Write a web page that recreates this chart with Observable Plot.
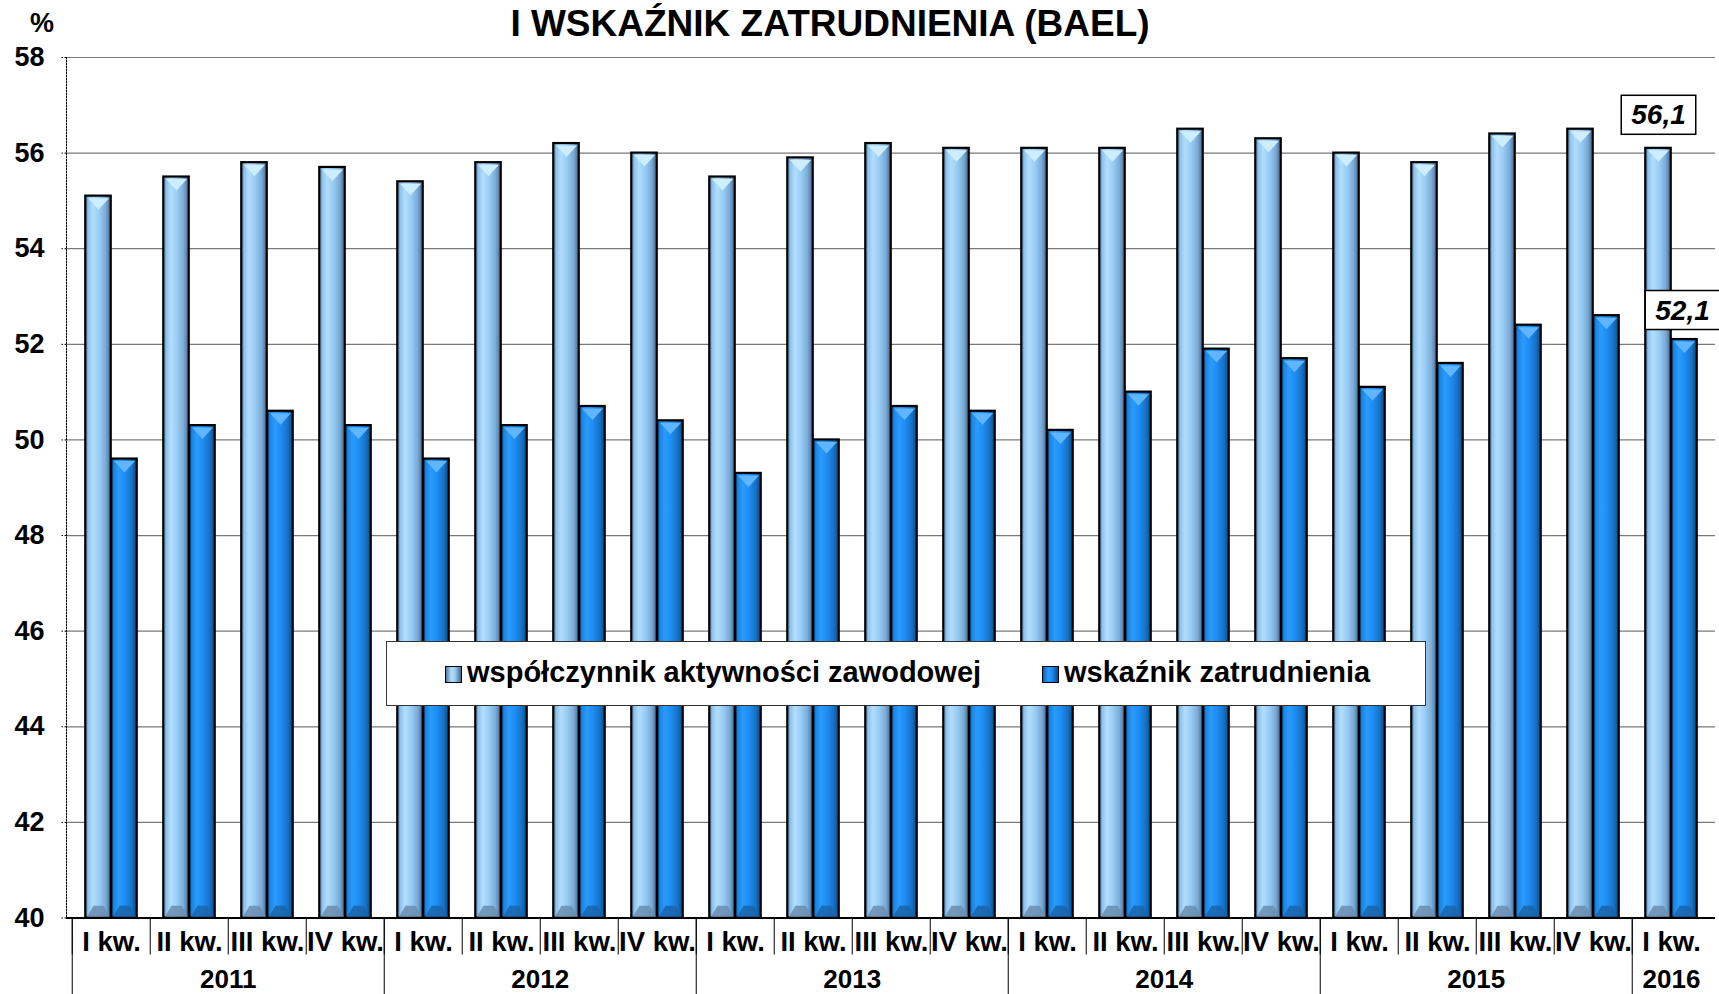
<!DOCTYPE html>
<html><head><meta charset="utf-8">
<script src="https://cdn.jsdelivr.net/npm/d3@7"></script>
<script src="https://cdn.jsdelivr.net/npm/@observablehq/plot@0.6"></script>
<style>
body{margin:0;background:#fff;font-family:"Liberation Sans",Arial,sans-serif;}
#wrap{position:relative;width:1719px;height:994px;overflow:hidden;background:#fff;}
#wrap svg{position:absolute;left:0;top:0;}
.title{position:absolute;left:0;width:1660px;top:3px;text-align:center;font-weight:bold;font-size:37px;line-height:42px;color:#000;}
.pct{position:absolute;left:30px;top:8px;font-weight:bold;font-size:27px;line-height:30px;}
.legend{position:absolute;left:386px;top:641px;width:1040px;height:65px;border:1.5px solid #333;background:#fff;box-sizing:border-box;}
.legend .sw{position:absolute;top:24px;width:17px;height:17px;border:1.5px solid #000;box-sizing:border-box;}
.legend .lt{position:absolute;top:13px;font-weight:bold;font-size:29px;line-height:34px;white-space:nowrap;}
</style></head><body><div id="wrap"></div>
<script>
// ---- data ----
const years = ["2011","2012","2013","2014","2015","2016"];
const quartersPerYear = [4,4,4,4,4,1];
const quarterNames = ["I kw.","II kw.","III kw.","IV kw."];
const seriesNames = ["współczynnik aktywności zawodowej","wskaźnik zatrudnienia"];
const activity = [55.1,55.5,55.8,55.7, 55.4,55.8,56.2,56.0, 55.5,55.9,56.2,56.1, 56.1,56.1,56.5,56.3, 56.0,55.8,56.4,56.5, 56.1];
const employment = [49.6,50.3,50.6,50.3, 49.6,50.3,50.7,50.4, 49.3,50.0,50.7,50.6, 50.2,51.0,51.9,51.7, 51.1,51.6,52.4,52.6, 52.1];
const yTicks = [40,42,44,46,48,50,52,54,56,58];
const titleText = "I WSKAŹNIK ZATRUDNIENIA (BAEL)";

// ---- build table ----
const rows = [];
years.forEach((yr, yi) => {
  for (let q = 0; q < quartersPerYear[yi]; q++) {
    rows.push({year: yr, quarter: quarterNames[q], key: yr + " " + quarterNames[q]});
  }
});
rows.forEach((r, i) => { r.activity = activity[i]; r.employment = employment[i]; });
const keys = rows.map(r => r.key);
const labelOf = new Map(rows.map(r => [r.key, r.quarter]));
const yearGroups = years.map(yr => rows.filter(r => r.year === yr));
const firstKeys = yearGroups.map(g => g[0].key);
const fullYears = yearGroups.filter(g => g.length === 4).map(g => ({year: g[0].year, key: g[2].key}));
const singleYears = yearGroups.filter(g => g.length === 1).map(g => ({year: g[0].year, key: g[0].key}));
const last = rows[rows.length - 1];
const fmt = v => v.toFixed(1).replace(".", ",");

// ---- layout ----
const W = 1719, H = 994;
const mL = 66, mR = 4, mT = 57, mB = H - 917.5;
const bw = (W - mL - mR) / keys.length;
const barW = 26;
const pad = (bw - 2 * barW) / 2;
const yMin = yTicks[0], yMax = yTicks[yTicks.length - 1];

const chevron = {draw(ctx) { ctx.moveTo(-10.5, -5.5); ctx.lineTo(10.5, -5.5); ctx.lineTo(0, 6); ctx.closePath(); }};
const bevel = {draw(ctx) { ctx.moveTo(-11.5, 6); ctx.lineTo(11.5, 6); ctx.lineTo(5, -5); ctx.lineTo(-5, -5); ctx.closePath(); }};
const font = {fontSize: 26, fontWeight: "bold", fontFamily: "Liberation Sans, Arial, sans-serif"};

const plot = Plot.plot({
  width: W, height: H,
  marginLeft: mL, marginRight: mR, marginTop: mT, marginBottom: mB,
  style: {fontFamily: "Liberation Sans, Arial, sans-serif", background: "transparent", overflow: "visible"},
  x: {type: "band", domain: keys, padding: 0, axis: null, label: null},
  y: {domain: [yMin, yMax], axis: null, label: null},
  marks: [
    Plot.gridY(yTicks, {stroke: "#7a7a7a", strokeOpacity: 1, strokeWidth: 1.2}),
    Plot.frame({anchor: "left", stroke: "#000", strokeDasharray: "1.5,1.5"}),
    Plot.axisY(yTicks, {tickSize: 6, tickPadding: 16, stroke: "#000", strokeDasharray: "1.5,1.5", label: null, ...font, fontSize: 27}),
    Plot.barY(rows, {x: "key", y1: yMin, y2: "activity", fill: "url(#gLight)", stroke: "#000", strokeWidth: 2.2, insetLeft: pad, insetRight: pad + barW}),
    Plot.barY(rows, {x: "key", y1: yMin, y2: "employment", fill: "url(#gDark)", stroke: "#000", strokeWidth: 2.2, insetLeft: pad + barW, insetRight: pad}),
    Plot.dot(rows, {x: "key", y: "activity", symbol: chevron, fill: "#cdeeff", stroke: "none", dx: pad + barW / 2 - bw / 2, dy: 7.5}),
    Plot.dot(rows, {x: "key", y: "employment", symbol: chevron, fill: "#5fb6ff", stroke: "none", dx: pad + barW * 1.5 - bw / 2, dy: 7.5}),
    Plot.dot(rows, {x: "key", y: yMin, symbol: bevel, fill: "#6a8db0", fillOpacity: 0.85, stroke: "none", dx: pad + barW / 2 - bw / 2, dy: -7.2}),
    Plot.dot(rows, {x: "key", y: yMin, symbol: bevel, fill: "#1a64aa", fillOpacity: 0.85, stroke: "none", dx: pad + barW * 1.5 - bw / 2, dy: -7.2}),
    Plot.ruleY([yMin], {stroke: "#000", strokeWidth: 2}),
    Plot.axisX(keys, {tickSize: 37, tickFormat: () => "", stroke: "#000", dx: -bw / 2, label: null}),
    Plot.axisX(firstKeys, {tickSize: 80, tickFormat: () => "", stroke: "#000", dx: -bw / 2, label: null}),
    Plot.axisX(keys, {tickSize: 0, tickPadding: 24, lineAnchor: "middle", tickFormat: k => labelOf.get(k), label: null, ...font, fontSize: 27.5}),
    Plot.text(fullYears, {x: "key", text: "year", frameAnchor: "bottom", dy: 62, dx: -bw / 2, lineAnchor: "middle", ...font}),
    Plot.text(singleYears, {x: "key", text: "year", frameAnchor: "bottom", dy: 62, lineAnchor: "middle", ...font}),
    Plot.text([last], {x: "key", y: "activity", text: d => fmt(d.activity), dx: pad + barW / 2 - bw / 2, dy: -33, lineAnchor: "middle", ...font, fontSize: 28, fontStyle: "italic"}),
    Plot.text([last], {x: "key", y: "employment", text: d => fmt(d.employment), dx: pad + barW * 1.5 - bw / 2 - 2, dy: -29, lineAnchor: "middle", ...font, fontSize: 28, fontStyle: "italic"})
  ]
});

const wrap = document.getElementById("wrap");
wrap.appendChild(plot);

// gradients
const svg = d3.select(plot);
const defs = svg.insert("defs", ":first-child");
function grad(id, stops) {
  const g = defs.append("linearGradient").attr("id", id).attr("x1", "0").attr("x2", "1").attr("y1", "0").attr("y2", "0");
  stops.forEach(([o, c]) => g.append("stop").attr("offset", o).attr("stop-color", c));
}
grad("gLight", [[0, "#4f7aa3"], [0.12, "#8fc2ec"], [0.3, "#b2defd"], [0.55, "#98ccf3"], [0.8, "#7aaad6"], [1, "#44698e"]]);
grad("gDark", [[0, "#0f5ea8"], [0.12, "#1d86e3"], [0.3, "#2a9bff"], [0.55, "#1e8cf0"], [0.8, "#1673c9"], [1, "#0a4a86"]]);

// boxes behind annotation labels (italic texts)
const annTexts = [];
svg.selectAll("text").each(function() {
  const st = this.getAttribute("font-style") || (this.parentNode && this.parentNode.getAttribute && this.parentNode.getAttribute("font-style"));
  if (st === "italic") annTexts.push(this);
});
annTexts.forEach(el => {
  const b = el.getBBox();
  const tr = el.getAttribute("transform");
  const r = d3.select(el.parentNode).insert("rect", () => el)
    .attr("x", b.x - 10).attr("y", b.y - 4).attr("width", b.width + 20).attr("height", b.height + 8)
    .attr("fill", "#fff").attr("stroke", "#000").attr("stroke-width", 1.5);
  if (tr) r.attr("transform", tr);
});

// title & unit
const t = document.createElement("div"); t.className = "title"; t.textContent = titleText; wrap.appendChild(t);
const p = document.createElement("div"); p.className = "pct"; p.textContent = "%"; wrap.appendChild(p);

// legend
const lg = document.createElement("div"); lg.className = "legend";
const items = [
  {name: seriesNames[0], grad: "linear-gradient(90deg,#4f7aa3,#b2defd 35%,#98ccf3 60%,#44698e)", sx: 58, tx: 80},
  {name: seriesNames[1], grad: "linear-gradient(90deg,#0f5ea8,#2a9bff 35%,#1e8cf0 60%,#0a4a86)", sx: 655, tx: 677}
];
items.forEach(it => {
  const s = document.createElement("div"); s.className = "sw"; s.style.left = it.sx + "px"; s.style.background = it.grad; lg.appendChild(s);
  const l = document.createElement("div"); l.className = "lt"; l.style.left = it.tx + "px"; l.textContent = it.name; lg.appendChild(l);
});
wrap.appendChild(lg);
</script>
</body></html>
